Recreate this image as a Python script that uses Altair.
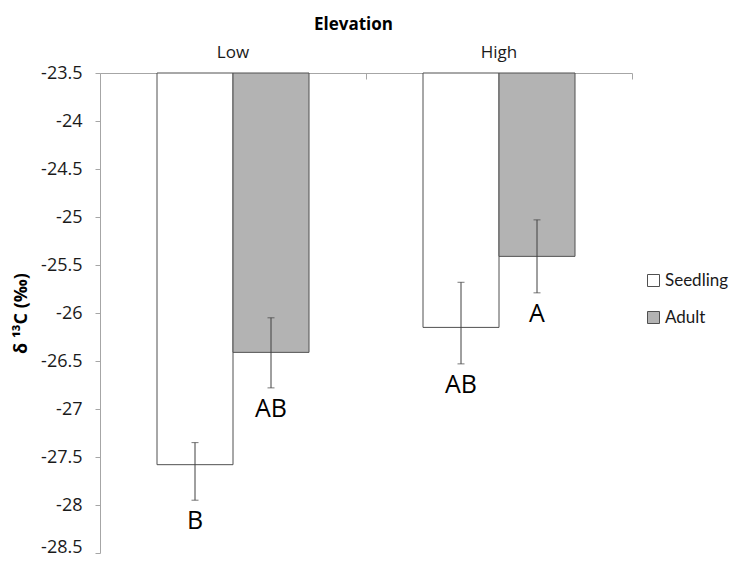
import altair as alt
import pandas as pd

elevation = ["Low", "Low", "High", "High"]
stage = ["Seedling", "Adult", "Seedling", "Adult"]
mean = [-27.58, -26.41, -26.15, -25.41]
err_hi = [-27.35, -26.05, -25.68, -25.03]
err_lo = [-27.95, -26.78, -26.53, -25.79]
letters = ["B", "AB", "AB", "A"]
y_ticks = [-28.5, -28, -27.5, -27, -26.5, -26, -25.5, -25, -24.5, -24, -23.5]
base_value = -23.5

df = pd.DataFrame({
    "Elevation": elevation,
    "Stage": stage,
    "mean": mean,
    "hi": err_hi,
    "lo": err_lo,
    "letter": letters,
    "base": [base_value] * len(mean),
})

FONT = "Open Sans"
elev_order = ["Low", "High"]
stage_order = ["Seedling", "Adult"]

x_scale = alt.Scale(domain=elev_order, paddingInner=0, paddingOuter=0)
xo_scale = alt.Scale(domain=stage_order, paddingInner=0, paddingOuter=0.75)
y_scale = alt.Scale(domain=[-28.5, -23.5], nice=False, zero=False)

x_top = alt.X(
    "Elevation:N", scale=x_scale, sort=elev_order,
    axis=alt.Axis(orient="top", title="Elevation", domain=False, ticks=False,
                  labelAngle=0, labelFont=FONT, labelFontSize=17, labelColor="#1a1a1a",
                  labelPadding=12, titleFont=FONT, titleFontSize=17, titleFontWeight="bold",
                  titleColor="#000000", titlePadding=10, titleX=253),
)
x_line = alt.X(
    "Elevation:N", scale=x_scale, sort=elev_order,
    axis=alt.Axis(orient="bottom", offset=-480, title=None, labels=False, domain=True,
                  domainColor="#a6a6a6", tickColor="#a6a6a6", tickSize=6,
                  tickBand="extent"),
)
x_plain = alt.X("Elevation:N", scale=x_scale, sort=elev_order, axis=None)

y_axis = alt.Axis(values=y_ticks, labelExpr="'' + datum.value", title="δ ¹³C (‰)",
                  grid=False, domainColor="#a6a6a6", tickColor="#a6a6a6", tickSize=5,
                  labelFont=FONT, labelFontSize=18, labelColor="#1a1a1a", labelPadding=13,
                  labelOffset={"condition": {"test": "datum.value <= -28.5", "value": -6},
                               "value": 0},
                  titleFont=FONT, titleFontSize=18, titleFontWeight="bold",
                  titleColor="#000000", titleX=-70)
xo = alt.XOffset("Stage:N", scale=xo_scale, sort=stage_order)

bars = alt.Chart(df).mark_bar(stroke="#505050", strokeWidth=1).encode(
    x=x_top,
    xOffset=xo,
    y=alt.Y("mean:Q", scale=y_scale, axis=y_axis),
    y2="base:Q",
    fill=alt.Fill(
        "Stage:N",
        scale=alt.Scale(domain=stage_order, range=["#ffffff", "#b3b3b3"]),
        legend=alt.Legend(title=None, orient="none", legendX=545, legendY=199,
                          symbolType="square", symbolSize=144, symbolStrokeColor="#505050",
                          symbolStrokeWidth=1, labelFont="Lato", labelFontSize=17,
                          labelColor="#1a1a1a", rowPadding=19, labelOffset=3),
    ),
)

rules = alt.Chart(df).mark_rule(color="#404040", strokeWidth=1).encode(
    x=x_line,
    xOffset=xo,
    y=alt.Y("lo:Q", scale=y_scale, axis=y_axis),
    y2="hi:Q",
)

cap_lo = alt.Chart(df).mark_tick(color="#404040", thickness=1, size=7, orient="horizontal").encode(
    x=x_plain,
    xOffset=xo,
    y=alt.Y("lo:Q", scale=y_scale, axis=y_axis),
)
cap_hi = alt.Chart(df).mark_tick(color="#404040", thickness=1, size=7, orient="horizontal").encode(
    x=x_plain,
    xOffset=xo,
    y=alt.Y("hi:Q", scale=y_scale, axis=y_axis),
)

text = alt.Chart(df).mark_text(font=FONT, fontSize=25, color="#000000", baseline="middle",
                               align="center", dy=21).encode(
    x=x_plain,
    xOffset=xo,
    y=alt.Y("lo:Q", scale=y_scale, axis=y_axis),
    text="letter:N",
)

chart = alt.layer(bars, rules, cap_lo, cap_hi, text).resolve_axis(x="independent").properties(
    width=532,
    height=480,
    autosize=alt.AutoSizeParams(type="none"),
    padding={"left": 92, "top": 65, "right": 100, "bottom": 4},
    background="#ffffff",
).configure_view(stroke="transparent", strokeWidth=0)

chart.save("out.html", embed_options={"renderer": "svg", "actions": False})
